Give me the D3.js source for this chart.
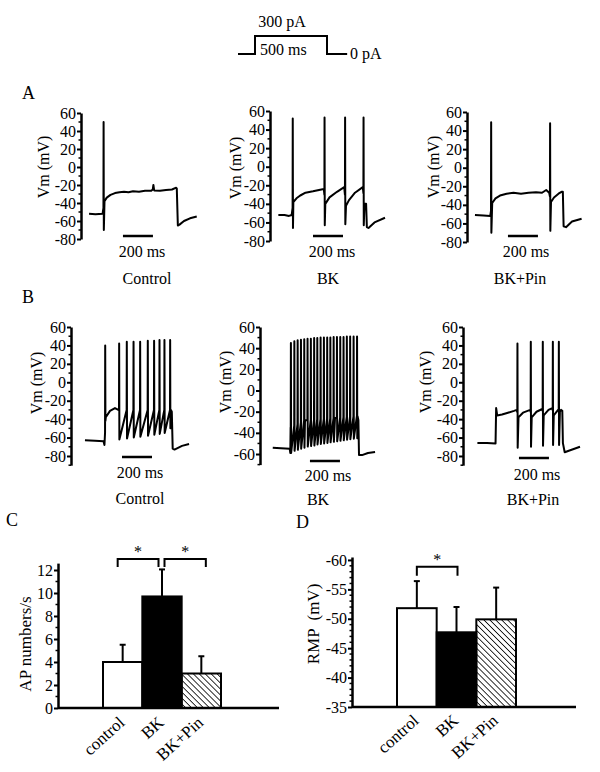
<!DOCTYPE html>
<html><head><meta charset="utf-8">
<script src="https://cdn.jsdelivr.net/npm/d3@7"></script>
<style>
body{margin:0;background:#fff}
svg{display:block}
svg text{font-family:"Liberation Serif","DejaVu Serif","Times New Roman",serif !important;fill:#000}
</style>
</head><body><script>
// ================= DATA =================
// Stimulus protocol: time (ms), current (pA)
const stimTimes    = [-118, 0, 0, 500, 500, 640];
const stimCurrents = [0, 0, 300, 300, 0, 0];

// Voltage traces: subthreshold breakpoints [ms, mV] and spikes [ms, peak mV, trough mV]
const aControlPts = [[-93,-52],[-50,-52.5],[-3,-52],[10,-38],[25,-34],[50,-31],[80,-29],[110,-28],[140,-27.5],[170,-28],[200,-27],[240,-27.5],[280,-26.5],[320,-26.5],[332,-25],[336,-20],[341,-26],[380,-26.5],[420,-25.5],[460,-25],[488,-23],[492,-24],[499,-65],[510,-64],[540,-60],[580,-57],[625,-55]];
const aControlSpikes = [[3,50,-70]];

const aBKPts = [[-91,-52],[-50,-52],[-20,-53],[-2,-52],[9,-38],[30,-34],[55,-31],[90,-28],[140,-26.5],[180,-25],[212,-24],[222,-40],[250,-33],[300,-27],[348,-22],[360,-42],[380,-36],[420,-28],[472,-22],[483,-40],[494,-40],[499,-65],[510,-66],[550,-60],[620,-55]];
const aBKSpikes = [[4,52,-66],[216,53,-63],[353,53,-62],[476,53,-63]];

const aPinPts = [[-107,-51],[-50,-51.5],[-5,-52],[8,-38],[30,-33],[60,-30],[104,-28],[150,-27],[200,-28],[250,-27],[300,-26.5],[340,-27],[368,-24],[388,-27],[400,-37],[420,-32],[450,-28],[470,-26],[479,-26],[484,-63],[500,-64],[540,-58],[604,-55]];
const aPinSpikes = [[0,49,-70],[393,48,-68]];

const bControlPts = [[-127,-63],[-60,-63.5],[-3,-64],[3,-68],[12,-38],[40,-31],[73,-28],[96,-30],[446,-30],[452,-32],[458,-72],[470,-73],[520,-69],[567,-67]];
const bControlSpikes = [[7,40,-42],[100,42,-62],[151,44,-61],[196,44,-60],[240,44,-59],[291,45,-58],[333,45,-57],[369,46,-56],[402,46,-55],[440,46,-50]];

const bBKPts = [[-115,-54],[-60,-54.5],[-2,-55],[2,-59],[4,-35],[100,-28],[300,-26],[450,-24],[456,-28],[460,-61],[480,-61],[520,-59],[567,-58]];
const bBKSpikes = [[5,45,-59],[28,46.5,-57],[50,47.5,-56],[72,48,-55],[94,48.5,-54],[116,49,-53],[138,49,-52.5],[160,49.5,-52],[181,49.5,-51],[203,50,-50.5],[225,50,-50],[247,50,-49.5],[268,50,-49],[290,50.5,-48.5],[312,50.5,-48],[334,50.5,-47.5],[356,50.5,-47],[378,51,-46.5],[400,51,-46],[423,51,-45.5],[446,51,-45]];

const bPinPts = [[-124,-66],[-60,-66],[-3,-66.5],[1,-28],[8,-36],[40,-35],[80,-33],[120,-31],[138,-30],[150,-38],[180,-33],[228,-30],[238,-38],[270,-32],[308,-29],[318,-36],[350,-30],[375,-28],[385,-36],[414,-30],[426,-32],[434,-30],[442,-31],[446,-66],[458,-76],[490,-74],[560,-70]];
const bPinSpikes = [[142,42,-71],[231,44,-70],[311,44,-69],[378,44,-68],[418,44,-68]];

// Bar charts
const groups   = ["control", "BK", "BK+Pin"];
const apMeans  = [4.0, 9.7, 3.0];
const apErrs   = [1.5, 2.35, 1.5];
const rmpMeans = [-51.8, -47.7, -49.9];
const rmpErrs  = [4.6, 4.3, 5.4];
const apTicks  = [0, 2, 4, 6, 8, 10, 12];
const rmpTicks = [-35, -40, -45, -50, -55, -60];
const vTicksA  = [-80, -60, -40, -20, 0, 20, 40, 60];
const vTicksB2 = [-60, -40, -20, 0, 20, 40, 60];

// ================= DRAW =================
const W = 600, H = 772;
const SERIF = '"Liberation Serif","DejaVu Serif","Times New Roman",serif';
const svg = d3.select("body").append("svg").attr("width", W).attr("height", H);

const defs = svg.append("defs");
defs.append("pattern").attr("id","hatch").attr("patternUnits","userSpaceOnUse")
  .attr("width",4.2).attr("height",4.2).attr("patternTransform","rotate(-45)")
  .append("line").attr("x1",0).attr("y1",0).attr("x2",0).attr("y2",4.2)
  .attr("stroke","#000").attr("stroke-width",1.6);

function txt(g, x, y, s, size, anchor){
  return g.append("text").attr("x",x).attr("y",y).attr("text-anchor",anchor||"start")
    .attr("font-size",size).style("font-family",SERIF).text(s);
}

// ---- stimulus ----
{
  const sx = d3.scaleLinear().domain([0,500]).range([255,327]);
  const sy = d3.scaleLinear().domain([0,300]).range([54,36]);
  const pts = stimTimes.map((t,i)=>[t, stimCurrents[i]]);
  svg.append("path").attr("d", d3.line().x(d=>sx(d[0])).y(d=>sy(d[1]))(pts))
    .attr("fill","none").attr("stroke","#000").attr("stroke-width",2);
  txt(svg,282,27,"300 pA",16,"middle");
  txt(svg,260,55,"500 ms",16);
  txt(svg,350,59,"0 pA",16);
}

// ---- panel letters ----
[["A",22,99],["B",22,303],["C",6,526],["D",296,528]].forEach(([s,x,y])=>txt(svg,x,y,s,18));

function buildTrace(pts, spikes){
  const interp = t => {
    for(let i=0;i<pts.length-1;i++){
      if(t>=pts[i][0] && t<=pts[i+1][0]){
        const f=(t-pts[i][0])/(pts[i+1][0]-pts[i][0]);
        return pts[i][1]+f*(pts[i+1][1]-pts[i][1]);
      }
    }
    return pts[pts.length-1][1];
  };
  const all = pts.map(p=>({t:p[0],v:p[1],o:0}));
  spikes.forEach(s=>{
    all.push({t:s[0],v:interp(s[0]),o:1},{t:s[0]+1,v:s[1],o:2},{t:s[0]+2.5,v:s[2],o:3});
  });
  all.sort((a,b)=>(a.t-b.t)||(a.o-b.o));
  return all;
}

const tracePanels = [
  {pts:aControlPts, spikes:aControlSpikes, axisX:81,  t0x:103, yDom:[-80,60], yRange:[239,113], ticks:vTicksA,
   ylabX:43, ylabY:167, barT:133, barY:236, msX:142, msY:257, name:"Control", nameX:147, nameY:284},
  {pts:aBKPts, spikes:aBKSpikes, axisX:270, t0x:292, yDom:[-80,60], yRange:[241,111], ticks:vTicksA,
   ylabX:235, ylabY:168, barT:140, barY:236, msX:332, msY:257, name:"BK", nameX:328, nameY:284},
  {pts:aPinPts, spikes:aPinSpikes, axisX:467, t0x:491, yDom:[-80,60], yRange:[242,112], ticks:vTicksA,
   ylabX:433, ylabY:167, barT:113, barY:236, msX:526, msY:257, name:"BK+Pin", nameX:520, nameY:284},
  {pts:bControlPts, spikes:bControlSpikes, axisX:71, t0x:104, yDom:[-90,60], yRange:[465.2,327], ticks:vTicksA,
   ylabX:36, ylabY:383, barT:120, barY:457, msX:140, msY:478, name:"Control", nameX:140, nameY:504},
  {pts:bBKPts, spikes:bBKSpikes, axisX:260, t0x:290, yDom:[-70,60], yRange:[464.6,327], ticks:vTicksB2,
   ylabX:225, ylabY:382, barT:133, barY:461, msX:328, msY:481, name:"BK", nameX:318, nameY:505},
  {pts:bPinPts, spikes:bPinSpikes, axisX:463, t0x:496, yDom:[-90,60], yRange:[465.2,327], ticks:vTicksA,
   ylabX:425, ylabY:382, barT:153, barY:458, msX:537, msY:480, name:"BK+Pin", nameX:533, nameY:505},
];

function styleAxis(ax){
  ax.attr("font-family",null).attr("font-size",null);
  ax.select(".domain").attr("stroke-width",2.5);
  ax.selectAll(".tick line").attr("stroke-width",2);
  ax.selectAll(".tick text").attr("font-size",16).style("font-family",SERIF);
}

tracePanels.forEach(p=>{
  const x = d3.scaleLinear().domain([0,500]).range([p.t0x, p.t0x+75]);
  const y = d3.scaleLinear().domain(p.yDom).range(p.yRange);
  const g = svg.append("g");
  const minor = [];
  for(let v=p.yDom[0]; v<=p.yDom[1]; v+=10) if(!p.ticks.includes(v)) minor.push(v);
  const ax = g.append("g").attr("transform",`translate(${p.axisX},0)`)
    .call(d3.axisLeft(y).tickValues(p.ticks).tickSize(4).tickSizeOuter(0).tickPadding(1).tickFormat(d=>String(d)));
  styleAxis(ax);
  minor.forEach(v=>{
    g.append("line").attr("x1",p.axisX-2.5).attr("x2",p.axisX).attr("y1",y(v)).attr("y2",y(v))
      .attr("stroke","#000").attr("stroke-width",1.5);
  });
  g.append("text").attr("transform",`translate(${p.ylabX},${p.ylabY}) rotate(-90)`)
    .attr("text-anchor","middle").attr("dy","0.35em").attr("font-size",16).style("font-family",SERIF).text("Vm (mV)");
  const data = buildTrace(p.pts, p.spikes);
  g.append("path").attr("d", d3.line().x(d=>x(d.t)).y(d=>y(d.v))(data))
    .attr("fill","none").attr("stroke","#000").attr("stroke-width",2).attr("stroke-linejoin","round");
  g.append("line").attr("x1",x(p.barT)).attr("x2",x(p.barT+200)).attr("y1",p.barY).attr("y2",p.barY)
    .attr("stroke","#000").attr("stroke-width",2.5);
  txt(g,p.msX,p.msY,"200 ms",16,"middle");
  txt(g,p.nameX,p.nameY,p.name,16,"middle");
});

// ---- bar charts ----
function barChart(cfg){
  const g = svg.append("g");
  const x = d3.scaleBand().domain(groups).range(cfg.band).padding(0);
  const y = d3.scaleLinear().domain(cfg.yDom).range(cfg.yRange);
  const fills = ["#fff","#000","url(#hatch)"];
  groups.forEach((c,i)=>{
    const m = cfg.means[i], e = cfg.errs[i];
    const top = cfg.sign>0 ? m+e : m-e;
    const cx = x(c)+x.bandwidth()/2;
    g.append("line").attr("x1",cx-3).attr("x2",cx+3).attr("y1",y(top)).attr("y2",y(top))
      .attr("stroke","#000").attr("stroke-width",2);
  });
  groups.forEach((c,i)=>{
    const m = cfg.means[i];
    g.append("rect").attr("x",x(c)).attr("width",x.bandwidth())
      .attr("y",y(m)).attr("height",y(cfg.yDom[0])-y(m))
      .attr("fill",fills[i]).attr("stroke","#000").attr("stroke-width",2);
  });
  groups.forEach((c,i)=>{
    const m = cfg.means[i], e = cfg.errs[i];
    const top = cfg.sign>0 ? m+e : m-e;
    const cx = x(c)+x.bandwidth()/2;
    g.append("line").attr("x1",cx).attr("x2",cx).attr("y1",y(m)).attr("y2",y(top))
      .attr("stroke","#000").attr("stroke-width",2);
  });
  const ax = g.append("g").attr("transform",`translate(${cfg.axisX},0)`)
    .call(d3.axisLeft(y).tickValues(cfg.ticks).tickSize(4).tickSizeOuter(0).tickPadding(1).tickFormat(d=>String(d)));
  styleAxis(ax);
  cfg.minor.forEach(v=>{
    g.append("line").attr("x1",cfg.axisX-2.5).attr("x2",cfg.axisX).attr("y1",y(v)).attr("y2",y(v))
      .attr("stroke","#000").attr("stroke-width",1.5);
  });
  g.append("line").attr("x1",cfg.axisX).attr("x2",cfg.xEnd).attr("y1",y(cfg.yDom[0])).attr("y2",y(cfg.yDom[0]))
    .attr("stroke","#000").attr("stroke-width",2.5);
  groups.forEach(c=>{
    const cx = x(c)+x.bandwidth()/2;
    g.append("text").attr("transform",`translate(${cx+cfg.labDx},${y(cfg.yDom[0])+cfg.labDy}) rotate(-42)`)
      .attr("text-anchor","end").attr("font-size",17).style("font-family",SERIF).text(c);
  });
  g.append("text").attr("transform",`translate(${cfg.ylabX},${cfg.ylabY}) rotate(-90)`)
    .attr("text-anchor","middle").attr("dy","0.35em").attr("font-size",17)
    .style("font-family",SERIF).style("white-space","pre").text(cfg.ylab);
  cfg.brackets.forEach(b=>{
    const x1 = x(groups[b[0]])+x.bandwidth()/2+b[2];
    const x2 = x(groups[b[1]])+x.bandwidth()/2+b[3];
    const yt = y(cfg.brY), yl = y(cfg.brLeg);
    g.append("path").attr("d",`M${x1},${yl}V${yt}H${x2}V${yl}`)
      .attr("fill","none").attr("stroke","#000").attr("stroke-width",2);
    txt(g,(x1+x2)/2,yt-2,"*",16,"middle");
  });
}

barChart({band:[103,221], yDom:[0,12.6], yRange:[708,563.1], axisX:58, xEnd:279,
  means:apMeans, errs:apErrs, sign:1, ticks:apTicks, minor:[1,3,5,7,9,11],
  labDx:3, labDy:16, ylab:"AP numbers/s", ylabX:25, ylabY:644,
  brackets:[[0,1,-5,-3.5],[1,2,2.5,4.5]], brY:12.96, brLeg:12.26});

barChart({band:[397,516], yDom:[-35,-60.5], yRange:[707,557], axisX:352, xEnd:576,
  means:rmpMeans, errs:rmpErrs, sign:-1, ticks:rmpTicks,
  minor:d3.range(-36,-61,-1).filter(v=>v%5!==0),
  labDx:3, labDy:15, ylab:"RMP  (mV)", ylabX:313, ylabY:624,
  brackets:[[0,1,0,1]], brY:-58.85, brLeg:-57.3});
</script></body></html>
